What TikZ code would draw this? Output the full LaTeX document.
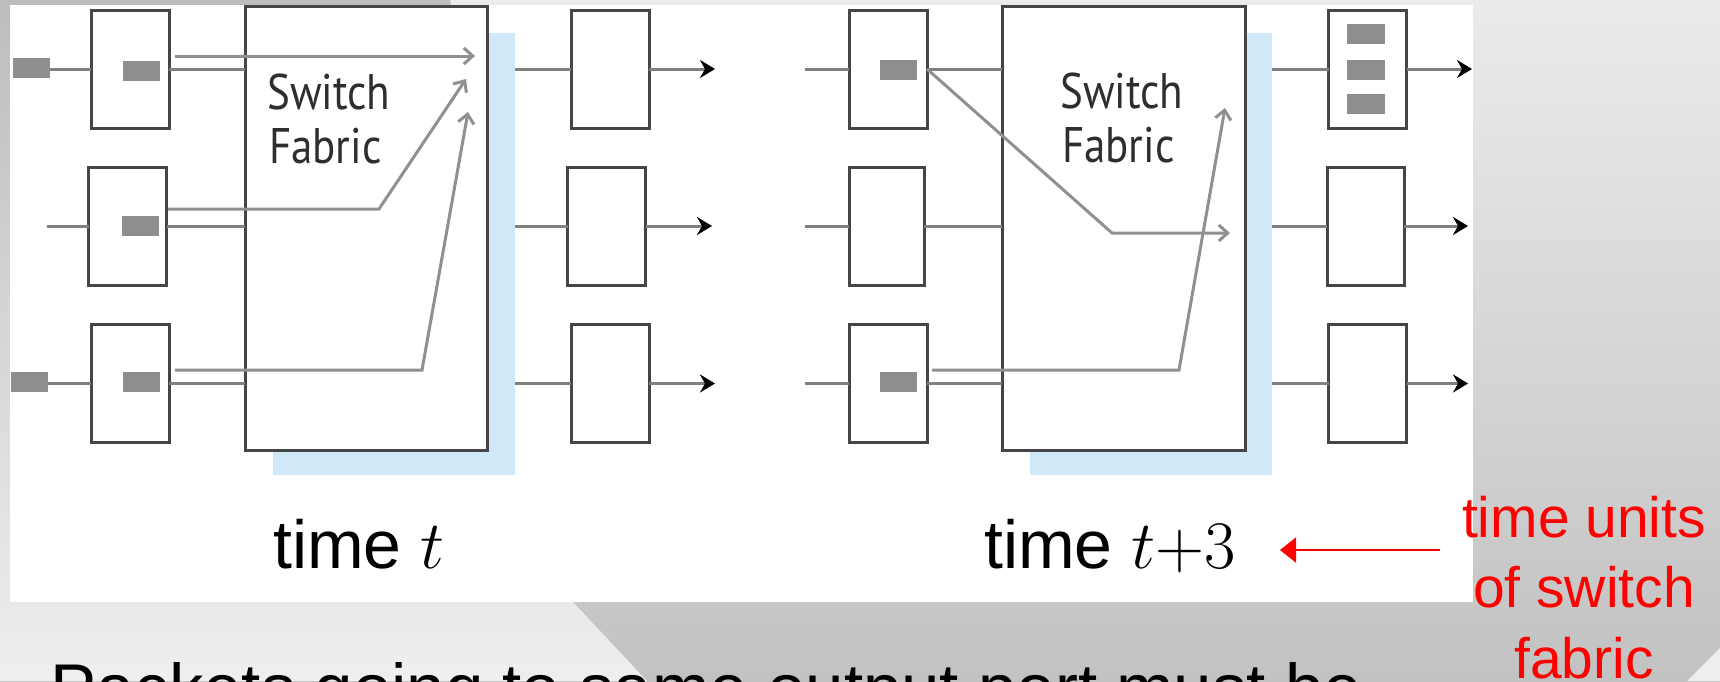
\RequirePackage{fix-cm}
\documentclass[tikz,border=0pt]{standalone}
\usepackage{fontspec}
\usetikzlibrary{arrows.meta}
\newfontfamily\arialf{Liberation Sans}
\newfontfamily\fabf[FakeStretch=0.86]{PT Sans}
\definecolor{linegray}{HTML}{808080}
\definecolor{boxgray}{HTML}{454545}
\definecolor{pktgray}{HTML}{8E8E8E}
\definecolor{shadowblue}{HTML}{D0E9F8}
\definecolor{arrgray}{HTML}{909090}
\definecolor{txtgray}{HTML}{2E2E2E}
\definecolor{bgleftTop}{HTML}{BDBDBD}
\definecolor{bgleftBot}{HTML}{EFEFEF}
\definecolor{bgTop}{HTML}{EBEBEB}
\definecolor{bgBot}{HTML}{C2C2C2}
\definecolor{bglight}{HTML}{EEEEEE}
\definecolor{annred}{HTML}{FF0000}
\begin{document}
\begin{tikzpicture}[x=1pt,y=-1pt,
  portbox/.style={draw=boxgray, line width=3pt, fill=white, minimum width=78pt, minimum height=118pt, inner sep=0pt, outer sep=0pt},
  pkt/.style={fill=pktgray, draw=none, minimum width=37pt, minimum height=20pt, inner sep=0pt, outer sep=0pt},
  fabricbox/.style={draw=boxgray, line width=3pt, fill=white, minimum width=242pt, minimum height=444pt, inner sep=0pt, outer sep=0pt},
  shadowbox/.style={fill=shadowblue, draw=none, minimum width=242pt, minimum height=442pt, inner sep=0pt, outer sep=0pt},
  conn/.style={draw=linegray, line width=3pt},
  outarrow/.style={conn, -{Stealth[length=15pt,width=18pt,inset=5pt,color=black]}},
  fabarrow/.style={draw=arrgray, line width=3pt, -{Straight Barb[length=9pt,width=16pt]}},
  fablabel/.style={font=\fabf\fontsize{50}{54}\selectfont, text=txtgray, inner sep=0pt, anchor=base west},
  timelabel/.style={font=\arialf\fontsize{68}{80}\selectfont, inner sep=0pt, anchor=base west},
  redlabel/.style={font=\arialf\fontsize{57}{70}\selectfont, text=annred, inner sep=0pt, anchor=base},
  redarrow/.style={draw=annred, line width=2pt, -{Triangle[length=16pt,width=25pt]}}
]
\useasboundingbox (0,0) rectangle (1720,681);
\clip (0,0) rectangle (1720,681);
% background
\shade[top color=bgTop, bottom color=bgBot] (0,0) rectangle (1720,681);
\shade[top color=bgleftTop, bottom color=bgleftBot] (0,0) -- (450,0) -- (573,602) -- (647,681) -- (0,681) -- cycle;
\fill[bglight] (1687,681) -- (1720,648) -- (1720,681) -- cycle;
% white panel
\fill[white] (10,5) rectangle (1473,602);

% ===== left panel (time t) =====
\node[shadowbox] (shL) at (394,254) {};
\node[fabricbox] (fabL) at (366,228) {};
\node[portbox] (IL1) at (130,69) {};
\node[portbox] (IL2) at (127.5,226) {};
\node[portbox] (IL3) at (130,383.5) {};
\node[portbox] (OL1) at (610,69) {};
\node[portbox] (OL2) at (606.5,226) {};
\node[portbox] (OL3) at (610,383.5) {};
\node[pkt] (PL1) at (31.5,67.5) {};
\node[pkt] (PL3) at (29,381.5) {};
\node[pkt] (qL1) at (141.5,71) {};
\node[pkt] (qL2) at (140.5,225.5) {};
\node[pkt] (qL3) at (141.5,381.5) {};
\coordinate (iL2s) at (47,226);
\coordinate (oL1e) at (715,69);
\coordinate (oL2e) at (712,226);
\coordinate (oL3e) at (715,383.5);
\draw[conn] (PL1.east |- IL1.west) -- (IL1.west);
\draw[conn] (iL2s) -- (IL2.west);
\draw[conn] (PL3.east |- IL3.west) -- (IL3.west);
\draw[conn] (IL1.east) -- (IL1.east -| fabL.west);
\draw[conn] (IL2.east) -- (IL2.east -| fabL.west);
\draw[conn] (IL3.east) -- (IL3.east -| fabL.west);
\draw[conn] (shL.east |- OL1.west) -- (OL1.west);
\draw[conn] (shL.east |- OL2.west) -- (OL2.west);
\draw[conn] (shL.east |- OL3.west) -- (OL3.west);
\draw[outarrow] (OL1.east) -- (oL1e);
\draw[outarrow] (OL2.east) -- (oL2e);
\draw[outarrow] (OL3.east) -- (oL3e);
\node[fablabel] (swL) at (267,109) {Switch};
\node[fablabel] (fbL) at (269,163) {Fabric};
\coordinate (a1s) at (175,56);
\coordinate (a1e) at (475,56);
\coordinate (a2s) at (168,209);
\coordinate (a2m) at (379,209);
\coordinate (a2e) at (466,79);
\coordinate (a3s) at (175,370);
\coordinate (a3m) at (422,370);
\coordinate (a3e) at (468,112);
\draw[fabarrow] (a1s) -- (a1e);
\draw[fabarrow] (a2s) -- (a2m) -- (a2e);
\draw[fabarrow] (a3s) -- (a3m) -- (a3e);

% ===== right panel (time t+3) =====
\node[shadowbox] (shR) at (1151,254) {};
\node[fabricbox, minimum width=243pt] (fabR) at (1123.5,228) {};
\node[portbox] (IR1) at (888,69) {};
\node[portbox, minimum width=75pt] (IR2) at (886.5,226) {};
\node[portbox] (IR3) at (888,383.5) {};
\node[portbox] (OR1) at (1367.5,69) {};
\node[portbox, minimum width=77pt] (OR2) at (1365.5,226) {};
\node[portbox] (OR3) at (1367.5,383.5) {};
\node[pkt] (qR1) at (898.5,70) {};
\node[pkt] (qR3) at (898.5,382) {};
\node[pkt, minimum width=38pt] (rA) at (1366,33.5) {};
\node[pkt, minimum width=38pt] (rB) at (1366,69.5) {};
\node[pkt, minimum width=38pt] (rC) at (1366,103.5) {};
\coordinate (iR1s) at (805,69);
\coordinate (iR2s) at (805,226);
\coordinate (iR3s) at (805,383.5);
\coordinate (oR1e) at (1472,69);
\coordinate (oR2e) at (1468,226);
\coordinate (oR3e) at (1468,383.5);
\draw[conn] (iR1s) -- (IR1.west);
\draw[conn] (iR2s) -- (IR2.west);
\draw[conn] (iR3s) -- (IR3.west);
\draw[conn] (IR1.east) -- (IR1.east -| fabR.west);
\draw[conn] (IR2.east) -- (IR2.east -| fabR.west);
\draw[conn] (IR3.east) -- (IR3.east -| fabR.west);
\draw[conn] (shR.east |- OR1.west) -- (OR1.west);
\draw[conn] (shR.east |- OR2.west) -- (OR2.west);
\draw[conn] (shR.east |- OR3.west) -- (OR3.west);
\draw[outarrow] (OR1.east) -- (oR1e);
\draw[outarrow] (OR2.east) -- (oR2e);
\draw[outarrow] (OR3.east) -- (oR3e);
\node[fablabel] (swR) at (1060,108) {Switch};
\node[fablabel] (fbR) at (1062,162) {Fabric};
\coordinate (b1m) at (1112,233);
\coordinate (b1e) at (1230,233);
\coordinate (b2s) at (932,370);
\coordinate (b2m) at (1179,370);
\coordinate (b2e) at (1225,108);
\draw[fabarrow] (IR1.east) -- (b1m) -- (b1e);
\draw[fabarrow] (b2s) -- (b2m) -- (b2e);

% ===== labels =====
\node[timelabel] (tL) at (273,568) {time $t$};
\node[timelabel] (tR) at (984,568) {time $t{+}3$};
\coordinate (rs) at (1440,550);
\coordinate (re) at (1280,550);
\draw[redarrow] (rs) -- (re);
\node[redlabel] (ru1) at (1584,537) {time units};
\node[redlabel] (ru2) at (1584,607) {of switch};
\node[redlabel] (ru3) at (1584,678) {fabric};
\node[font=\arialf\fontsize{69}{80}\selectfont, inner sep=0pt, anchor=base west] (bottomtext) at (50,712) {Packets going to same output port must be};
\end{tikzpicture}
\end{document}
